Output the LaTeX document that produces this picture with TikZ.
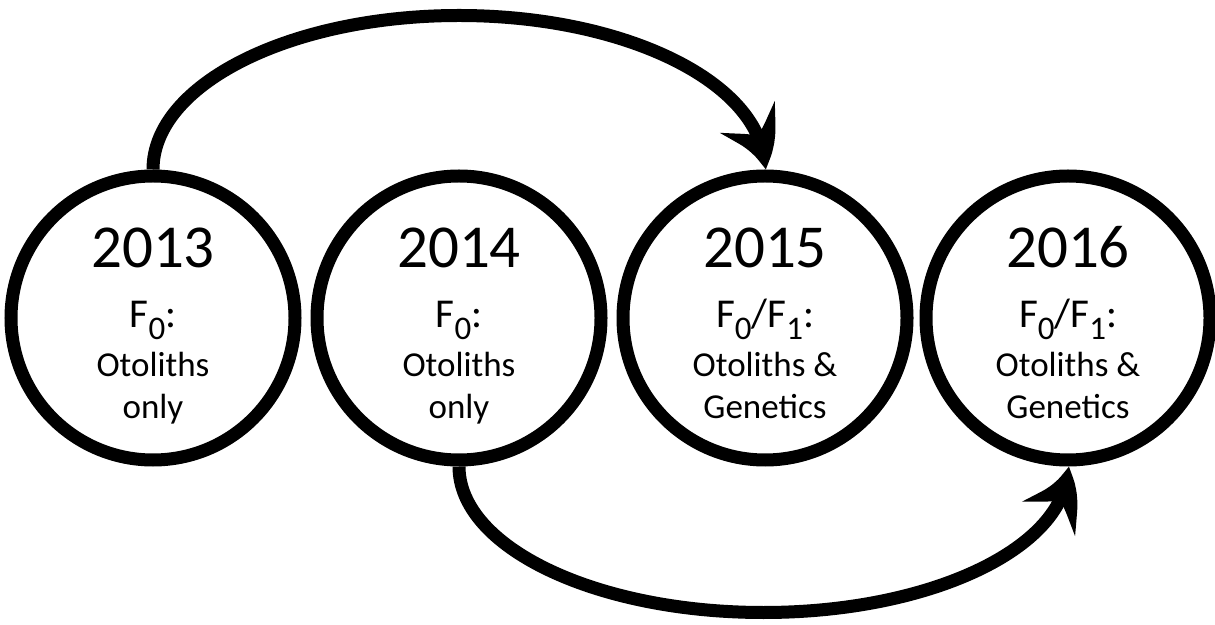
\documentclass[tikz,border=0pt]{standalone}
\usepackage{fontspec}
\setmainfont{Carlito}
\usetikzlibrary{arrows.meta,bending}
\newcommand\Fs[1]{F\raisebox{-12pt}{\fontsize{33}{33}\selectfont #1}}
\tikzset{
  yearcirc/.style={circle,draw,line width=13pt,minimum size=284pt,inner sep=0pt},
  yeartxt/.style={anchor=base,inner sep=0pt,font=\fontsize{61}{61}\selectfont},
  gentxt/.style={anchor=base,inner sep=0pt,font=\fontsize{41}{41}\selectfont},
  bodytxt/.style={anchor=base,inner sep=0pt,font=\fontsize{35}{35}\selectfont},
  flow/.style={line width=13pt,-{Stealth[length=55pt,width=62pt,inset=20pt,bend]}}
}
\begin{document}
\begin{tikzpicture}[x=1pt,y=1pt]
\useasboundingbox (0,0) rectangle (1215,624);
\node[yearcirc] (c2013) at (153,306) {};
\node[yearcirc] (c2014) at (459,306) {};
\node[yearcirc] (c2015) at (765,306) {};
\node[yearcirc] (c2016) at (1068,306) {};
\foreach \n/\g/\a/\b in {2013/{\Fs{0}:}/{Otoliths}/{only},
                          2014/{\Fs{0}:}/{Otoliths}/{only},
                          2015/{\Fs{0}/\Fs{1}:}/{Otoliths \&}/{Genetics},
                          2016/{\Fs{0}/\Fs{1}:}/{Otoliths \&}/{Genetics}}{
  \node[yeartxt] (y\n) at ([yshift=50pt]c\n.center) {\n};
  \node[gentxt] (g\n) at ([yshift=-10pt]c\n.center) {\g};
  \node[bodytxt] (o\n) at ([yshift=-59pt]c\n.center) {\a};
  \node[bodytxt] (l\n) at ([yshift=-101pt]c\n.center) {\b};
}
\draw[flow] (c2013.north) arc[start angle=180,end angle=0,x radius=306,y radius=154];
\draw[flow] (c2014.south) arc[start angle=180,end angle=360,x radius=304.5,y radius=146];
\end{tikzpicture}
\end{document}
